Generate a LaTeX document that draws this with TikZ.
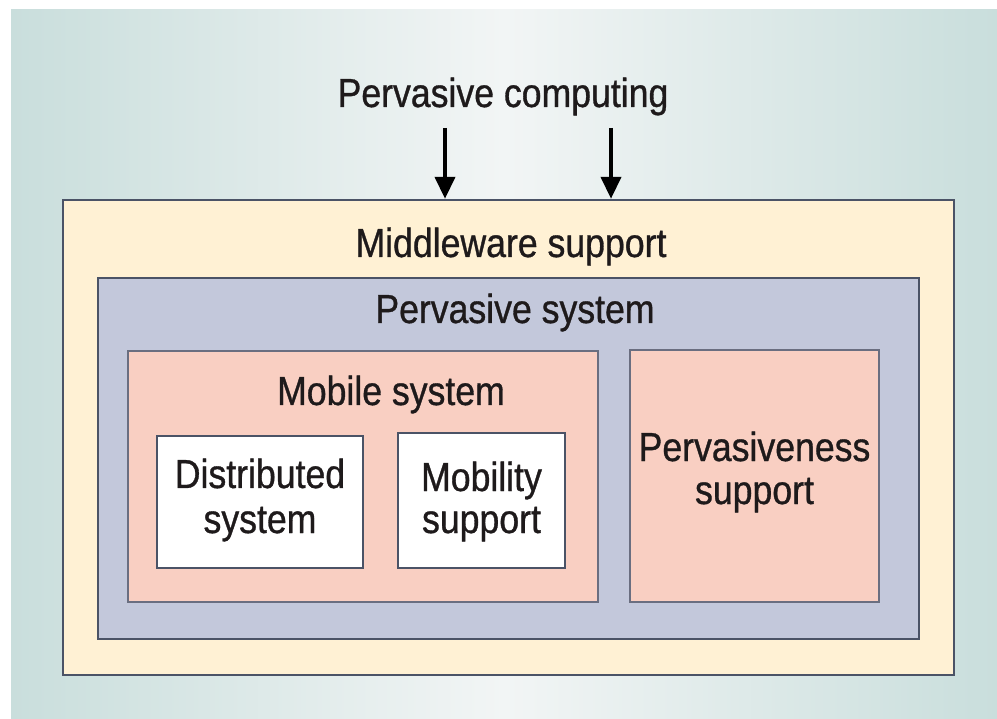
\documentclass[tikz,border=0pt]{standalone}
\usepackage{fontspec}
\setmainfont{Liberation Sans}[FakeStretch=0.88,FakeBold=0.8]
\usetikzlibrary{arrows.meta}
\definecolor{bgedge}{HTML}{C9DEDC}
\definecolor{bgmid}{HTML}{F2F5F5}
\definecolor{cream}{HTML}{FFF1D4}
\definecolor{lav}{HTML}{C3C8DB}
\definecolor{salmon}{HTML}{F9CFC2}
\definecolor{edgedark}{HTML}{4B5366}
\definecolor{edgemid}{HTML}{6A6E80}
\definecolor{txt}{HTML}{1E1A1B}
\begin{document}
\begin{tikzpicture}[x=1pt,y=-1pt,
  lbl/.style={font=\fontsize{40.5}{45}\selectfont, text=txt, inner sep=0pt, anchor=base},
  box/.style={draw=edgedark, line width=2pt, inner sep=0pt},
  thinbox/.style={draw=edgemid, line width=1.6pt, inner sep=0pt},
  arr/.style={draw=black, line width=4pt, -{Triangle[width=20pt,length=22pt]}}
]
\useasboundingbox (0,0) rectangle (997,719);
\fill[white] (0,0) rectangle (997,719);
\shade[left color=bgedge, right color=bgedge, middle color=bgmid] (11,10) rectangle (997,719);

% boxes
\node[box, line width=2.4pt, fill=cream, minimum width=891pt, minimum height=475pt] (mw) at (508.5,437.5) {};
\node[box, fill=lav, minimum width=821pt, minimum height=361pt] (ps) at (508.5,458.5) {};
\node[thinbox, fill=salmon, minimum width=470pt, minimum height=251pt] (ms) at (363,476.5) {};
\node[thinbox, fill=salmon, minimum width=249pt, minimum height=252pt] (pv) at (754.5,476) {};
\node[box, fill=white, minimum width=206pt, minimum height=132pt] (ds) at (260,502) {};
\node[box, fill=white, minimum width=167pt, minimum height=135pt] (mob) at (481.5,500.5) {};

% labels
\node[lbl] (pc) at (503,107) {Pervasive computing};
\node[lbl] (mwl) at (511,257) {Middleware support};
\node[lbl] (psl) at (515,323) {Pervasive system};
\node[lbl] (msl) at (391,405) {Mobile system};
\node[lbl] (ds1) at (260,488) {Distributed};
\node[lbl] (ds2) at (260,533) {system};
\node[lbl] (mob1) at (481.5,491) {Mobility};
\node[lbl] (mob2) at (481.5,533) {support};
\node[lbl] (pv1) at (754.5,461) {Pervasiveness};
\node[lbl] (pv2) at (754.5,504) {support};

% arrows
\coordinate (a1s) at (445,128);
\coordinate (a2s) at (611,128);
\draw[arr] (a1s) -- (a1s |- mw.north);
\draw[arr] (a2s) -- (a2s |- mw.north);
\end{tikzpicture}
\end{document}
